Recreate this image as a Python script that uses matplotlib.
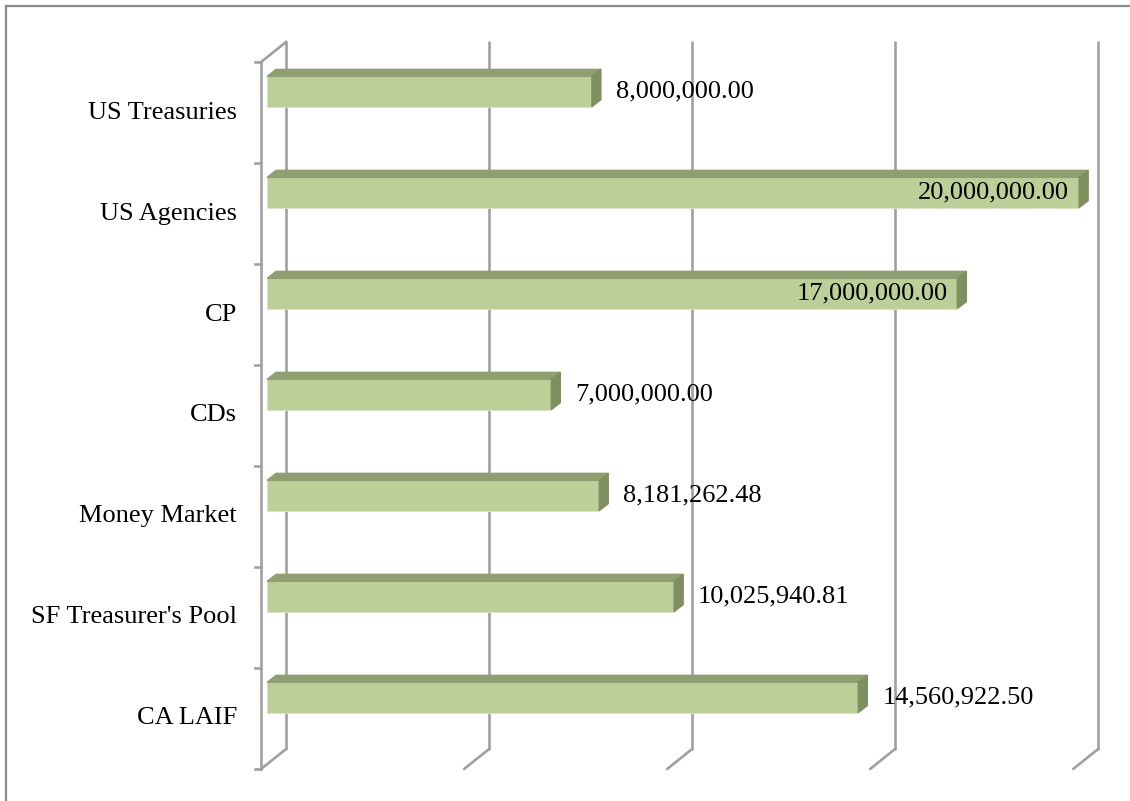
import matplotlib.pyplot as plt
from matplotlib.patches import Polygon
from matplotlib.lines import Line2D

# data (top to bottom)
categories = ["US Treasuries", "US Agencies", "CP", "CDs", "Money Market",
              "SF Treasurer's Pool", "CA LAIF"]
values = [8000000.00, 20000000.00, 17000000.00, 7000000.00, 8181262.48,
          10025940.81, 14560922.50]
grid_ticks = [0, 5000000, 10000000, 15000000, 20000000]

W, H = 1130, 801
fig = plt.figure(figsize=(W / 100, H / 100), dpi=100)
ax = fig.add_axes([0, 0, 1, 1])
ax.set_axis_off()

# plot area: x=0 sits at pixel 261, 20M at pixel 1073; categories 101 px apart
xmin, xmax = -6.43e6, 21.40e6
ymin, ymax = 6.817, -1.114
ax.set_xlim(xmin, xmax)
ax.set_ylim(ymin, ymax)
px_x = (xmax - xmin) / W      # data units per pixel, x
px_y = (ymin - ymax) / H      # data units per pixel, y

grid_col = "#a0a0a0"
lw = 1.9
n = len(categories)
y_top, y_bot = -0.5, n - 0.5
back_dx, back_dy = 25 * px_x, -20 * px_y

# walls / gridlines with the 3-D depth
for g in grid_ticks:
    ax.plot([g + back_dx, g + back_dx], [y_top + back_dy, y_bot + back_dy],
            color=grid_col, lw=lw, solid_capstyle="round", zorder=1)
    ax.plot([g, g + back_dx], [y_bot, y_bot + back_dy],
            color=grid_col, lw=lw, solid_capstyle="round", zorder=1)
ax.plot([0, 0], [y_top, y_bot], color=grid_col, lw=lw, zorder=1)
ax.plot([0, back_dx], [y_top, y_top + back_dy], color=grid_col, lw=lw, zorder=1)
for k in range(n + 1):
    ax.plot([-6 * px_x, 0], [y_top + k, y_top + k], color=grid_col, lw=lw, zorder=1)

# 3-D bars
front_col = "#bccf98"
top_col = "#8f9f72"
side_col = "#7f9060"
bar_h = 0.30
shift_x, shift_y = 6 * px_x, -21 * px_y
dep_x, dep_y = 9 * px_x, -7 * px_y
for i, v in enumerate(values):
    yc = i + shift_y
    yt, yb = yc - bar_h / 2, yc + bar_h / 2
    x0, x1 = shift_x, shift_x + v
    ax.barh(yc, v, left=x0, height=bar_h, color=front_col,
            edgecolor="#d9e3c6", lw=0.6, zorder=3)
    ax.add_patch(Polygon([(x0, yt), (x0 + dep_x, yt + dep_y), (x1 + dep_x, yt + dep_y), (x1, yt)],
                         closed=True, color=top_col, zorder=3))
    ax.add_patch(Polygon([(x1, yt), (x1 + dep_x, yt + dep_y), (x1 + dep_x, yb + dep_y), (x1, yb)],
                         closed=True, color=side_col, zorder=3))
    label = f"{v:,.2f}"
    if v >= 15000000:
        ax.text(x1 - 10 * px_x, yc, label, ha="right", va="center",
                family="Liberation Serif", fontsize=19, zorder=4)
    else:
        ax.text(x1 + 24 * px_x, yc, label, ha="left", va="center",
                family="Liberation Serif", fontsize=19, zorder=4)

# category labels
for i, c in enumerate(categories):
    ax.text(-24 * px_x, i, c, ha="right", va="center",
            family="Liberation Serif", fontsize=19)

# outer frame (only top and left edges visible)
fig.add_artist(Line2D([6 / W, 6 / W], [0, 1 - 6 / H], transform=fig.transFigure,
                      color="#8a8a8a", lw=1.6))
fig.add_artist(Line2D([6 / W, 1], [1 - 6 / H, 1 - 6 / H], transform=fig.transFigure,
                      color="#8a8a8a", lw=1.6))

fig.savefig("out.png", dpi=100)
